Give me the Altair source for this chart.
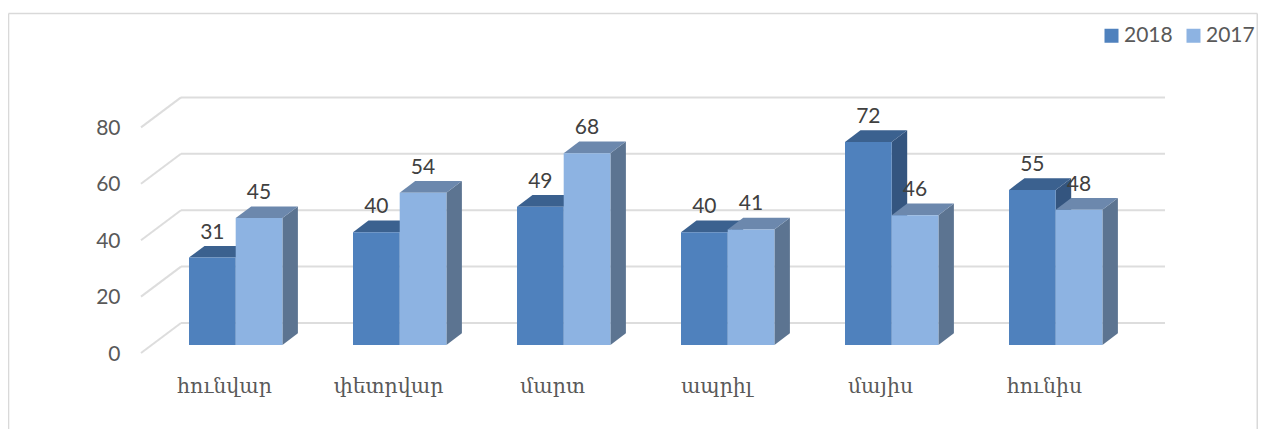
import altair as alt
import pandas as pd

months = ["հունվար", "փետրվար", "մարտ", "ապրիլ", "մայիս", "հունիս"]
values_2018 = [31, 40, 49, 40, 72, 55]
values_2017 = [45, 54, 68, 41, 46, 48]
series = ["2018", "2017"]
front_colors = ["#4F81BD", "#8DB3E2"]
top_colors = ["#3B618F", "#6C88AD"]
side_colors = ["#34557F", "#5C7491"]
ticks = [0, 20, 40, 60, 80]

# geometry of the pseudo-3D scene, in the x scale's units and value units
W, H = 1250, 421
PX = 2.82
Y_MIN, Y_MAX = -(429 - 353) / PX, (353 - 8) / PX
X_MIN, X_MAX = 8, 1258
GROUP0, GROUP_STEP, BAR_W = 189, 164, 46.7
BAR_DX, BAR_DY = 15.5, 11.7 / PX
BAR_FLOOR = 8 / PX
WALL_L, WALL_R, WALL_FRONT = 181, 1165, 141
WALL_DY = 30 / PX

x_scale = alt.Scale(domain=[X_MIN, X_MAX], range=[0, W], nice=False, zero=False)
y_scale = alt.Scale(domain=[Y_MIN, Y_MAX], range=[H, 0], nice=False, zero=False)
centers = [GROUP0 + 35 + GROUP_STEP * i for i in range(len(months))]

fronts, tops, sides, labels = [], [], [], []
for s, vals in enumerate([values_2018, values_2017]):
    for i, v in enumerate(vals):
        l = GROUP0 + GROUP_STEP * i + BAR_W * s
        r = l + BAR_W
        key = f"{s}-{i}"
        top_y = v + BAR_FLOOR
        fronts.append(dict(series=series[s], x=l, x2=r, y=BAR_FLOOR, y2=top_y))
        labels.append(dict(x=(l + r) / 2, y=top_y, t=str(v), s=s))
        tops += [
            dict(k=key, s=s, y=top_y, x=l, x2=r),
            dict(k=key, s=s, y=top_y + BAR_DY, x=l + BAR_DX, x2=r + BAR_DX),
        ]
        sides += [
            dict(k=key, s=s, x=r, y=BAR_FLOOR, y2=top_y),
            dict(k=key, s=s, x=r + BAR_DX, y=BAR_FLOOR + BAR_DY, y2=top_y + BAR_DY),
        ]
fronts, tops, sides, labels = map(pd.DataFrame, (fronts, tops, sides, labels))

X = alt.X("x:Q", scale=x_scale, title=None, axis=alt.Axis(
    values=centers, labelExpr="%s[round((datum.value-%d)/%d)]" % (months, centers[0], GROUP_STEP),
    domain=False, ticks=False, grid=False, offset=-(429 - 376), labelPadding=0,
    labelFont="DejaVu Serif", labelFontSize=20.5, labelColor="#595959", labelFlush=False, labelOverlap=False,
    labelBaseline="top"))
Y = alt.Y("y:Q", scale=y_scale, title=None, axis=alt.Axis(
    values=ticks, domain=False, ticks=False, grid=False, offset=-112, labelPadding=0, labelOffset=1,
    labelFont="Lato", labelFontSize=21, labelColor="#595959"))

grid_color = "#DDDDDD"
wall = pd.DataFrame([dict(x=WALL_L, x2=WALL_R, y=t + WALL_DY) for t in ticks])
left = pd.DataFrame(
    [dict(k=t, x=WALL_FRONT, y=t) for t in ticks] + [dict(k=t, x=WALL_L, y=t + WALL_DY) for t in ticks]
)
TOP = (353 - 13.5) / PX
border = pd.DataFrame([
    dict(x=8.5, x2=8.5, y=Y_MIN, y2=TOP),
    dict(x=1257.3, x2=1257.3, y=Y_MIN, y2=TOP),
    dict(x=8.5, x2=1257.3, y=TOP, y2=TOP),
])

layers = [
    alt.Chart(border).mark_rule(color="#D9D9D9", strokeWidth=1.6).encode(x=X, x2="x2:Q", y=Y, y2="y2:Q"),
    alt.Chart(wall).mark_rule(color=grid_color, strokeWidth=2).encode(x=X, x2="x2:Q", y=Y),
    alt.Chart(left).mark_line(color=grid_color, strokeWidth=2).encode(x=X, y=Y, detail="k:N"),
]
for s in range(2):
    layers += [
        alt.Chart(sides[sides.s == s]).mark_area(orient="vertical", color=side_colors[s]).encode(
            x=X, y=Y, y2="y2:Q", detail="k:N"),
        alt.Chart(tops[tops.s == s]).mark_area(orient="horizontal", color=top_colors[s]).encode(
            y=Y, x=X, x2="x2:Q", detail="k:N"),
        alt.Chart(fronts[fronts.series == series[s]]).mark_rect().encode(
            x=X, x2="x2:Q", y=Y, y2="y2:Q",
            color=alt.Color("series:N", scale=alt.Scale(domain=series, range=front_colors), sort=series,
                legend=alt.Legend(
                    title=None, orient="none", legendX=1093, legendY=17, direction="horizontal",
                    symbolType="square", symbolSize=196, symbolStrokeWidth=0, symbolOpacity=1,
                    labelFont="Lato", labelFontSize=21, labelColor="#595959", columnPadding=10,
                    labelOffset=2, padding=0))),
    ]
layers.append(
    alt.Chart(labels).mark_text(font="Lato", fontSize=21, color="#404040", dy=-25, baseline="middle").encode(
        x=X, y=Y, text="t:N")
)

chart = alt.layer(*layers).properties(
    width=W, height=H, padding=0, autosize=alt.AutoSizeParams(type="none"), background="white"
).configure_view(stroke=None)

chart.save("out.html", embed_options={"renderer": "svg", "actions": False})
